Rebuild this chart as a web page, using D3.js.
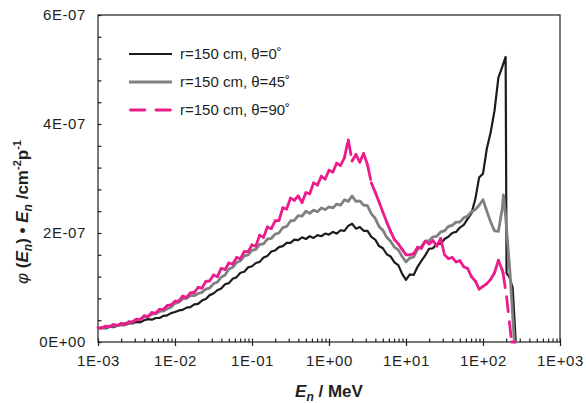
<!DOCTYPE html>
<html lang="en">
<head>
<meta charset="UTF-8">
<title>Neutron spectra</title>
<script src="https://d3js.org/d3.v7.min.js"></script>
<style>
  body { margin: 0; background: #fff; }
  text { font-family: "Liberation Sans", Arial, sans-serif; fill: #231f20; }
</style>
</head>
<body>
<svg width="586" height="403"></svg>
<script>
// log10 of neutron energy (MeV), shared grid for the spectra body
const logE = [
  -3.00,-2.95,-2.90,-2.85,-2.80,-2.75,-2.70,-2.65,-2.60,-2.55,
  -2.50,-2.45,-2.40,-2.35,-2.30,-2.25,-2.20,-2.15,-2.10,-2.05,
  -2.00,-1.95,-1.90,-1.85,-1.80,-1.75,-1.70,-1.65,-1.60,-1.55,
  -1.50,-1.45,-1.40,-1.35,-1.30,-1.25,-1.20,-1.15,-1.10,-1.05,
  -1.00,-0.95,-0.90,-0.85,-0.80,-0.75,-0.70,-0.65,-0.60,-0.55,
  -0.50,-0.45,-0.40,-0.35,-0.30,-0.25,-0.20,-0.15,-0.10,-0.05,
   0.00, 0.05, 0.10, 0.15, 0.20, 0.25, 0.30, 0.35, 0.40, 0.45,
   0.50, 0.55, 0.60, 0.65, 0.70, 0.75, 0.80, 0.85, 0.90, 0.95,
   1.00, 1.05, 1.10, 1.15, 1.20, 1.25, 1.30, 1.35, 1.40, 1.45,
   1.50, 1.55, 1.60, 1.65, 1.70, 1.75, 1.80, 1.85, 1.90, 1.95,
   2.00, 2.05, 2.10, 2.15, 2.20, 2.25
];

// phi(E)*E in units of 1E-07 cm^-2 p^-1
const theta0 = [
  0.25,0.26,0.25,0.28,0.27,0.30,0.31,0.31,0.34,0.34,
  0.37,0.36,0.40,0.42,0.41,0.44,0.44,0.48,0.49,0.53,
  0.55,0.58,0.59,0.63,0.64,0.69,0.70,0.76,0.79,0.86,
  0.89,0.95,0.98,1.06,1.08,1.16,1.19,1.27,1.29,1.37,
  1.39,1.45,1.47,1.55,1.58,1.66,1.68,1.74,1.76,1.82,
  1.82,1.88,1.87,1.92,1.89,1.94,1.91,1.96,1.94,1.99,
  1.97,2.02,1.99,2.05,2.04,2.13,2.17,2.08,2.11,2.04,
  2.04,1.93,1.88,1.76,1.72,1.61,1.57,1.46,1.41,1.25,
  1.14,1.24,1.23,1.38,1.49,1.59,1.71,1.72,1.80,1.80,
  1.89,1.93,2.00,2.02,2.10,2.15,2.26,2.36,2.62,3.02,
  3.09,3.55,3.85,4.25,4.85,5.05
];
const theta45 = [
  0.25,0.26,0.27,0.29,0.29,0.31,0.32,0.34,0.35,0.38,
  0.41,0.42,0.46,0.47,0.51,0.52,0.56,0.57,0.61,0.64,
  0.71,0.73,0.79,0.80,0.85,0.85,0.89,0.91,0.97,0.99,
  1.07,1.10,1.19,1.23,1.34,1.37,1.46,1.49,1.58,1.60,
  1.68,1.70,1.79,1.80,1.89,1.90,1.98,2.00,2.10,2.12,
  2.22,2.23,2.32,2.31,2.40,2.36,2.42,2.39,2.46,2.43,
  2.48,2.46,2.53,2.51,2.61,2.58,2.68,2.58,2.59,2.51,
  2.50,2.35,2.27,2.12,2.05,1.92,1.85,1.74,1.69,1.57,
  1.47,1.54,1.56,1.70,1.75,1.85,1.86,1.93,1.94,2.02,
  2.04,2.12,2.14,2.20,2.20,2.28,2.31,2.39,2.43,2.51,
  2.61,2.40,2.20,2.04,2.03,2.45
];
const theta90 = [
  0.26,0.26,0.29,0.28,0.32,0.30,0.34,0.32,0.37,0.36,
  0.42,0.41,0.48,0.47,0.54,0.53,0.60,0.60,0.67,0.68,
  0.75,0.75,0.84,0.82,0.90,0.91,1.00,0.99,1.11,1.12,
  1.23,1.20,1.35,1.33,1.45,1.43,1.55,1.53,1.66,1.66,
  1.78,1.76,1.96,1.92,2.11,2.08,2.22,2.23,2.46,2.44,
  2.64,2.60,2.68,2.56,2.74,2.72,2.92,2.88,3.04,2.99,
  3.15,3.12,3.28,3.24,3.38,3.71,3.32,3.44,3.30,3.46,
  3.25,2.92,2.75,2.57,2.38,2.20,2.03,1.88,1.80,1.70,
  1.60,1.60,1.62,1.74,1.72,1.85,1.80,1.86,1.76,1.90,
  1.60,1.53,1.55,1.47,1.49,1.38,1.35,1.20,1.12,0.97,
  1.02,1.07,1.15,1.27,1.50,1.32
];

// high-energy cut-off of each spectrum: [log10 E, value]
const tail0  = [[2.294, 5.23], [2.306, 1.26], [2.34, 1.20], [2.385, 1.00], [2.425, 0], [2.44, 0]];
const tail45 = [[2.265, 2.70], [2.294, 2.30], [2.351, 1.26], [2.407, 0], [2.44, 0]];
const tail90 = [[2.26, 1.27], [2.306, 0.83], [2.372, 0], [2.41, 0]];

const seriesNames = ["r=150 cm, \u03b8=0\u02da", "r=150 cm, \u03b8=45\u02da", "r=150 cm, \u03b8=90\u02da"];
const seriesColors = ["#1f1a1b", "#808080", "#ec1c8c"];
const xTickLabels = ["1E-03", "1E-02", "1E-01", "1E+00", "1E+01", "1E+02", "1E+03"];
const yTickLabels = ["0E+00", "2E-07", "4E-07", "6E-07"];
const unit = 1e-7;

const plot = { left: 98, right: 560, top: 15, bottom: 342 };
const svg = d3.select("svg");

const x = d3.scaleLog().domain([1e-3, 1e3]).range([plot.left, plot.right]);
const y = d3.scaleLinear().domain([0, 6e-7]).range([plot.bottom, plot.top]);

function buildSeries(vals, tail) {
  const pts = logE.map((l, i) => [Math.pow(10, l), vals[i] * unit]);
  tail.forEach(t => pts.push([Math.pow(10, t[0]), t[1] * unit]));
  return pts;
}
const series = [buildSeries(theta0, tail0), buildSeries(theta45, tail45), buildSeries(theta90, tail90)];

// frame
svg.append("rect")
  .attr("x", plot.left).attr("y", plot.top)
  .attr("width", plot.right - plot.left).attr("height", plot.bottom - plot.top)
  .attr("fill", "none").attr("stroke", "#231f20").attr("stroke-width", 1.2);

// x axis: minor inner ticks, major ticks crossing the line
const xMajor = xTickLabels.map(s => +s);
svg.append("g")
  .attr("transform", `translate(0,${plot.bottom})`)
  .call(d3.axisBottom(x).tickValues(x.ticks()).tickSize(-3.5).tickSizeOuter(0).tickFormat(""))
  .call(g => g.select(".domain").remove());
svg.append("g")
  .attr("transform", `translate(0,${plot.bottom})`)
  .call(d3.axisBottom(x).tickValues(xMajor).tickSize(4).tickSizeOuter(0).tickPadding(9)
    .tickFormat((d, i) => xTickLabels[i]))
  .call(g => g.select(".domain").remove());

// y axis
const yMajor = yTickLabels.map(s => +s);
svg.append("g")
  .attr("transform", `translate(${plot.left},0)`)
  .call(d3.axisLeft(y).tickValues(d3.range(0, 6.01e-7, 0.4e-7)).tickSize(-3.5).tickSizeOuter(0).tickFormat(""))
  .call(g => g.select(".domain").remove());
svg.append("g")
  .attr("transform", `translate(${plot.left},0)`)
  .call(d3.axisLeft(y).tickValues(yMajor).tickSize(0).tickPadding(12)
    .tickFormat((d, i) => yTickLabels[i]))
  .call(g => g.select(".domain").remove());

svg.selectAll(".tick line").attr("stroke", "#231f20").attr("stroke-width", 1.2);
svg.selectAll(".tick text")
  .attr("font-family", "Liberation Sans, Arial, sans-serif")
  .attr("font-size", 15).attr("letter-spacing", 0.6).attr("fill", "#231f20");

// curves
const line = d3.line().x(d => x(d[0])).y(d => y(d[1]));
const widths = [2.2, 2.8, 2.8];

[0, 1].forEach(k => {
  svg.append("path")
    .datum(series[k])
    .attr("d", line)
    .attr("fill", "none")
    .attr("stroke", seriesColors[k])
    .attr("stroke-width", widths[k])
    .attr("stroke-linejoin", "round");
});

// dashed series: dash pattern restarts on every segment
const pink = series[2];
svg.append("g").selectAll("line")
  .data(d3.pairs(pink))
  .join("line")
  .attr("x1", d => x(d[0][0])).attr("y1", d => y(d[0][1]))
  .attr("x2", d => x(d[1][0])).attr("y2", d => y(d[1][1]))
  .attr("stroke", seriesColors[2])
  .attr("stroke-width", widths[2])
  .attr("stroke-linecap", "round")
  .attr("stroke-dasharray", "15,10");

// legend
const legend = svg.append("g");
seriesNames.forEach((name, i) => {
  const ly = 54 + i * 28;
  const ln = legend.append("line")
    .attr("x1", i === 2 ? 130.4 : 129).attr("x2", i === 2 ? 171 : 172)
    .attr("y1", ly).attr("y2", ly)
    .attr("stroke", seriesColors[i])
    .attr("stroke-width", widths[i]);
  if (i === 2) ln.attr("stroke-dasharray", "14.5,11").attr("stroke-linecap", "round");
  legend.append("text")
    .attr("x", 180).attr("y", ly + 5)
    .attr("font-size", 15)
    .text(name);
});

// axis titles
const xt = svg.append("text")
  .attr("x", (plot.left + plot.right) / 2).attr("y", 397)
  .attr("text-anchor", "middle")
  .attr("font-size", 17).attr("font-weight", "bold");
xt.append("tspan").attr("font-style", "italic").text("E");
xt.append("tspan").attr("font-style", "italic").attr("font-size", 12).attr("dy", 4).text("n");
xt.append("tspan").attr("dy", -4).text(" / MeV");

const yt = svg.append("text")
  .attr("transform", "translate(28,212) rotate(-90)")
  .attr("text-anchor", "middle")
  .attr("font-size", 17).attr("font-weight", "bold");
yt.append("tspan").attr("font-style", "italic").attr("font-weight", "normal").text("\u03c6");
yt.append("tspan").text(" (");
yt.append("tspan").attr("font-style", "italic").text("E");
yt.append("tspan").attr("font-style", "italic").attr("font-size", 12).attr("dy", 4).text("n");
yt.append("tspan").attr("dy", -4).text(") \u2022 ");
yt.append("tspan").attr("font-style", "italic").text("E");
yt.append("tspan").attr("font-style", "italic").attr("font-size", 12).attr("dy", 4).text("n");
yt.append("tspan").attr("dy", -4).text(" /cm");
yt.append("tspan").attr("font-size", 11).attr("dy", -7).text("-2");
yt.append("tspan").attr("dy", 7).text("p");
yt.append("tspan").attr("font-size", 11).attr("dy", -7).text("-1");
</script>
</body>
</html>
